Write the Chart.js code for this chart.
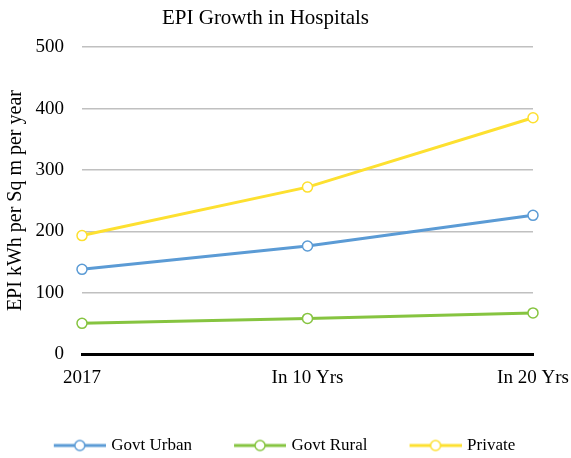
<!DOCTYPE html>
<html>
<head>
<meta charset="utf-8">
<script src="https://cdn.jsdelivr.net/npm/chart.js@4"></script>
<style>
  html, body { margin: 0; padding: 0; background: #fff; }
  #wrap { width: 571px; height: 458px; }
</style>
</head>
<body>
<div id="wrap"><canvas id="epiChart" width="571" height="458"></canvas></div>
<script>
// Chart data
const periods = ['2017', 'In 10 Yrs', 'In 20 Yrs'];
const govtUrban = [138, 176, 226];
const govtRural = [50, 58, 67];
const privateHosp = [193, 272, 385];
const yTicks = [0, 100, 200, 300, 400, 500];

const blue = '#5b9bd5';
const green = '#86c440';
const yellow = '#fde030';
const serif = "'Liberation Serif', 'Times New Roman', serif";

// line+circle marker for the legend, with blank space on the left as item gap
const markerGap = 39;
function legendMarker(color) {
    const c = document.createElement('canvas');
    c.width = 52 + markerGap;
    c.height = 14;
    const g = c.getContext('2d');
    g.strokeStyle = color;
    g.lineWidth = 3;
    g.beginPath();
    g.moveTo(markerGap, 7);
    g.lineTo(markerGap + 52, 7);
    g.stroke();
    g.beginPath();
    g.arc(markerGap + 26, 7, 5, 0, Math.PI * 2);
    g.fillStyle = '#fff';
    g.fill();
    g.lineWidth = 1.5;
    g.stroke();
    return c;
}

function series(label, data, color) {
    return {
        label: label,
        data: data,
        borderColor: color,
        backgroundColor: '#fff',
        borderWidth: 3,
        pointRadius: 5,
        pointBorderWidth: 1.5,
        pointBackgroundColor: '#fff',
        pointBorderColor: color,
        tension: 0,
        markerImg: legendMarker(color),
    };
}

// nudge title and legend sideways
const blockShift = {
    id: 'blockShift',
    afterLayout(chart) {
        chart.legend.left -= 19;
        chart.legend.right -= 19;
        chart.titleBlock.left -= 20;
        chart.titleBlock.right -= 20;
    },
};

const ctx = document.getElementById('epiChart').getContext('2d');

new Chart(ctx, {
    type: 'line',
    data: {
        labels: periods,
        datasets: [
            series('Govt Urban', govtUrban, blue),
            series('Govt Rural', govtRural, green),
            series('Private', privateHosp, yellow),
        ],
    },
    plugins: [blockShift],
    options: {
        responsive: false,
        animation: false,
        layout: { padding: { left: 0, right: 0, top: 0, bottom: -6 } },
        plugins: {
            title: {
                display: true,
                text: 'EPI Growth in Hospitals',
                color: '#000',
                font: { family: serif, size: 21, weight: 'normal' },
                padding: { top: 6, bottom: 16 },
            },
            legend: {
                position: 'bottom',
                labels: {
                    usePointStyle: true,
                    pointStyleWidth: 46 + markerGap,
                    color: '#000',
                    font: { family: serif, size: 17 },
                    padding: 6,
                    generateLabels(chart) {
                        return chart.data.datasets.map((ds, i) => ({
                            text: ds.label,
                            pointStyle: ds.markerImg,
                            fillStyle: ds.borderColor,
                            strokeStyle: ds.borderColor,
                            lineWidth: 0,
                            hidden: false,
                            datasetIndex: i,
                            fontColor: '#000',
                        }));
                    },
                },
            },
            tooltip: { enabled: false },
        },
        scales: {
            x: {
                offset: false,
                grid: { display: false, drawTicks: false },
                border: { display: true, color: '#000', width: 3 },
                ticks: {
                    color: '#000',
                    font: { family: serif, size: 19 },
                    padding: 13,
                    maxRotation: 0,
                    autoSkip: false,
                },
                afterFit(scale) {
                    scale.height = 77;
                    scale.paddingRight = 38;
                },
            },
            y: {
                min: 0,
                max: 500,
                afterBuildTicks(scale) { scale.ticks = yTicks.map(v => ({ value: v })); },
                grid: { color: '#c0c0c0', lineWidth: 1.5, drawTicks: false },
                border: { display: false },
                ticks: {
                    color: '#000',
                    font: { family: serif, size: 19 },
                    padding: 18,
                },
                title: {
                    display: true,
                    text: 'EPI kWh per Sq m per year',
                    color: '#000',
                    font: { family: serif, size: 20 },
                    padding: { top: 4, bottom: 0 },
                },
                afterFit(scale) { scale.width = 82; },
            },
        },
    },
});
</script>
</body>
</html>
